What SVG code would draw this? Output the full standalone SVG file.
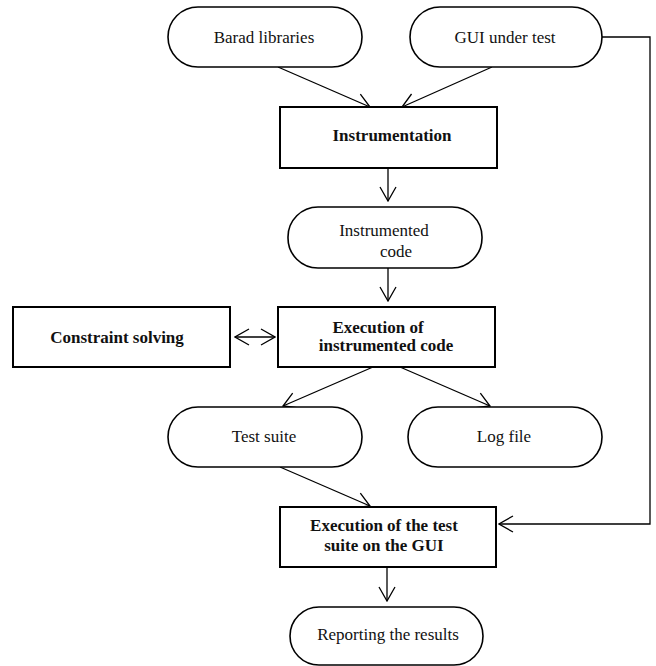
<svg xmlns="http://www.w3.org/2000/svg" width="656" height="666" viewBox="0 0 656 666">
<style>
.pill{fill:#fff;stroke:#000;stroke-width:1.6}
.box{fill:#fff;stroke:#000;stroke-width:2}
.t{font-family:"Liberation Serif","Times New Roman",serif;font-size:17px;fill:#111;text-anchor:middle}
.b{font-weight:bold}
.c{fill:none;stroke:#000;stroke-width:1.3}
</style>
<defs>
<marker id="ah" markerUnits="userSpaceOnUse" markerWidth="16" markerHeight="18" viewBox="0 0 16 18" refX="15" refY="9" orient="auto-start-reverse">
<path d="M1,1 L15,9 L1,17" fill="none" stroke="#000" stroke-width="1.3"/>
</marker>
</defs>
<rect width="656" height="666" fill="#fff"/>
<g id="connectors">
<line class="c" x1="278" y1="67" x2="370" y2="107" marker-end="url(#ah)"/>
<line class="c" x1="492" y1="67" x2="402" y2="107" marker-end="url(#ah)"/>
<line class="c" x1="388" y1="168" x2="388" y2="201" marker-end="url(#ah)"/>
<line class="c" x1="388" y1="268" x2="388" y2="301" marker-end="url(#ah)"/>
<line class="c" x1="235" y1="337" x2="275" y2="337" marker-start="url(#ah)" marker-end="url(#ah)"/>
<line class="c" x1="373" y1="367" x2="283" y2="406" marker-end="url(#ah)"/>
<line class="c" x1="400" y1="367" x2="490" y2="406" marker-end="url(#ah)"/>
<line class="c" x1="280" y1="467" x2="370" y2="506" marker-end="url(#ah)"/>
<polyline class="c" points="602,37 650,37 650,524 499,524" marker-end="url(#ah)"/>
<line class="c" x1="387" y1="567" x2="387" y2="601" marker-end="url(#ah)"/>
</g>
<g id="barad">
<rect class="pill" x="168" y="7" width="194" height="60" rx="30"/>
<text class="t" x="264" y="43">Barad libraries</text>
</g>
<g id="gui">
<rect class="pill" x="410" y="7" width="192" height="60" rx="30"/>
<text class="t" x="505" y="43">GUI under test</text>
</g>
<g id="instrumentation">
<rect class="box" x="280" y="107" width="217" height="61"/>
<text class="t b" x="392" y="141">Instrumentation</text>
</g>
<g id="instrumented-code">
<rect class="pill" x="288" y="207" width="194" height="61" rx="30"/>
<text class="t" x="384" y="236">Instrumented</text>
<text class="t" x="396" y="257">code</text>
</g>
<g id="constraint">
<rect class="box" x="13" y="307" width="217" height="60"/>
<text class="t b" x="117" y="343">Constraint solving</text>
</g>
<g id="execution">
<rect class="box" x="278" y="307" width="217" height="60"/>
<text class="t b" x="378" y="333">Execution of</text>
<text class="t b" x="386" y="351">instrumented code</text>
</g>
<g id="test-suite">
<rect class="pill" x="168" y="407" width="194" height="60" rx="30"/>
<text class="t" x="264" y="442">Test suite</text>
</g>
<g id="log-file">
<rect class="pill" x="408" y="407" width="194" height="60" rx="30"/>
<text class="t" x="504" y="442">Log file</text>
</g>
<g id="execution-gui">
<rect class="box" x="280" y="507" width="216" height="60"/>
<text class="t b" x="384" y="531">Execution of the test</text>
<text class="t b" x="384" y="551">suite on the GUI</text>
</g>
<g id="reporting">
<rect class="pill" x="290" y="607" width="193" height="58" rx="29"/>
<text class="t" x="388" y="640">Reporting the results</text>
</g>
</svg>
